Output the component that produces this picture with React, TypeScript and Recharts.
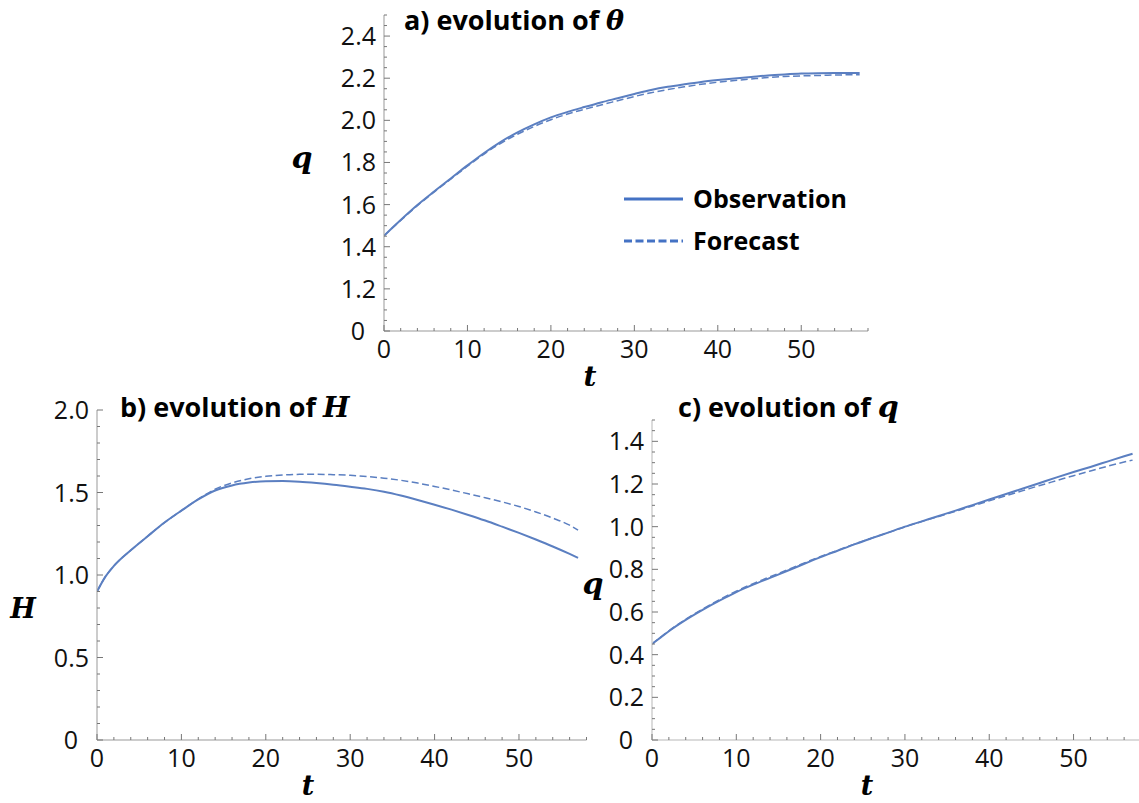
import React from 'react';
import { LineChart, Line, XAxis, YAxis, Legend } from 'recharts';

// ---------- data ----------
const tValues = [0, 1, 2, 4, 6, 8, 10, 12, 14, 16, 18, 20, 22, 24, 26, 28, 30, 32, 34, 36, 38, 40, 42, 44, 46, 48, 50, 52, 54, 56, 57];

const thetaObservation = [1.452, 1.49, 1.527, 1.598, 1.662, 1.724, 1.786, 1.845, 1.898, 1.943, 1.981, 2.014, 2.04, 2.063, 2.085, 2.105, 2.125, 2.144, 2.159, 2.171, 2.182, 2.191, 2.199, 2.206, 2.213, 2.218, 2.222, 2.224, 2.225, 2.225, 2.225];
const thetaForecast = [1.452, 1.489, 1.525, 1.595, 1.659, 1.721, 1.782, 1.84, 1.891, 1.934, 1.971, 2.003, 2.03, 2.052, 2.073, 2.093, 2.113, 2.131, 2.146, 2.159, 2.171, 2.181, 2.189, 2.196, 2.203, 2.208, 2.211, 2.213, 2.215, 2.216, 2.216];

const hObservation = [0.9, 0.99, 1.055, 1.15, 1.235, 1.318, 1.39, 1.458, 1.512, 1.543, 1.56, 1.568, 1.569, 1.565, 1.557, 1.547, 1.535, 1.522, 1.505, 1.482, 1.455, 1.426, 1.396, 1.364, 1.33, 1.293, 1.255, 1.215, 1.173, 1.128, 1.104];
const hForecast = [0.9, 0.99, 1.055, 1.15, 1.235, 1.318, 1.39, 1.46, 1.52, 1.558, 1.583, 1.598, 1.606, 1.61, 1.61, 1.608, 1.604, 1.597, 1.587, 1.574, 1.557, 1.537, 1.515, 1.492, 1.468, 1.443, 1.415, 1.382, 1.345, 1.302, 1.272];

const qObservation = [0.45, 0.48, 0.51, 0.563, 0.61, 0.653, 0.693, 0.728, 0.76, 0.792, 0.825, 0.857, 0.887, 0.917, 0.945, 0.972, 1.0, 1.025, 1.05, 1.075, 1.101, 1.127, 1.153, 1.179, 1.205, 1.231, 1.256, 1.28, 1.305, 1.33, 1.342];
const qForecast = [0.45, 0.481, 0.512, 0.566, 0.614, 0.658, 0.698, 0.733, 0.765, 0.797, 0.829, 0.86, 0.889, 0.918, 0.946, 0.972, 0.999, 1.024, 1.048, 1.072, 1.097, 1.121, 1.145, 1.169, 1.193, 1.216, 1.239, 1.261, 1.283, 1.303, 1.312];

const seriesNames = ['Observation', 'Forecast'];

// tick labels
const tMajorTicks = [0, 10, 20, 30, 40, 50];
const tMajorLabels = ['0', '10', '20', '30', '40', '50'];
const thetaMajorTicks = [1.0, 1.2, 1.4, 1.6, 1.8, 2.0, 2.2, 2.4];
const thetaMajorLabels = ['0', '1.2', '1.4', '1.6', '1.8', '2.0', '2.2', '2.4'];
const hMajorTicks = [0, 0.5, 1.0, 1.5, 2.0];
const hMajorLabels = ['0', '0.5', '1.0', '1.5', '2.0'];
const qMajorTicks = [0, 0.2, 0.4, 0.6, 0.8, 1.0, 1.2, 1.4];
const qMajorLabels = ['0', '0.2', '0.4', '0.6', '0.8', '1.0', '1.2', '1.4'];

// minor tick grids (tick positions, not data)
const range = (a: number, b: number, step: number) => {
  const out: number[] = [];
  const n = Math.round((b - a) / step);
  for (let i = 0; i <= n; i++) out.push(Math.round((a + i * step) * 10000) / 10000);
  return out;
};
const tAllTicks = range(0, 58, 2);
const thetaAllTicks = range(1.0, 2.5, 0.05);
const hAllTicks = range(0, 2.0, 0.1);
const qAllTicks = range(0, 1.5, 0.05);

const build = (obs: number[], fc: number[]) =>
  tValues.map((t, i) => ({ t, obs: obs[i], fc: fc[i] }));

const thetaData = build(thetaObservation, thetaForecast);
const hData = build(hObservation, hForecast);
const qData = build(qObservation, qForecast);

// ---------- style ----------
const LINE_COLOR = '#5b7fc1';
const LEGEND_COLOR = '#4472c4';
const TICK_COLOR = '#777';
const LABEL_FONT = '"Open Sans", sans-serif';
const MATH_FONT = '"DejaVu Serif", serif';
const TICK_FONT_SIZE = 25;
const W = 1150;
const H = 803;

const findMajor = (v: number, majors: number[]) =>
  majors.findIndex((m) => Math.abs(m - v) < 1e-6);

const makeYTick = (majors: number[], labels: string[]) => (p: any) => {
  const { x, y, payload } = p;
  const i = findMajor(payload.value, majors);
  const major = i >= 0;
  const lab = major ? labels[i] : '';
  return (
    <g>
      <line x1={x} x2={x + (major ? 6 : 3)} y1={y} y2={y} stroke={TICK_COLOR} strokeWidth={1} />
      {major && (
        <text x={x - (lab.includes('.') ? 8 : 19)} y={y + 9} textAnchor="end" fontFamily={LABEL_FONT} fontSize={TICK_FONT_SIZE} fill="#111">
          {lab}
        </text>
      )}
    </g>
  );
};

const makeXTick = (majors: number[], labels: string[]) => (p: any) => {
  const { x, y, payload } = p;
  const i = findMajor(payload.value, majors);
  const major = i >= 0;
  return (
    <g>
      <line x1={x} x2={x} y1={y} y2={y - (major ? 6 : 3)} stroke={TICK_COLOR} strokeWidth={1} />
      {major && (
        <text x={x} y={y + 27} textAnchor="middle" fontFamily={LABEL_FONT} fontSize={TICK_FONT_SIZE} fill="#111">
          {labels[i]}
        </text>
      )}
    </g>
  );
};

const legendContent = (props: any) => {
  const payload = [...(props.payload || [])].sort(
    (a: any, b: any) => seriesNames.indexOf(a.value) - seriesNames.indexOf(b.value)
  );
  return (
    <svg width={240} height={80} style={{ overflow: 'visible' }}>
      {payload.map((entry: any, i: number) => {
        const cy = 19 + i * 42;
        const dashed = entry.value === seriesNames[1];
        return (
          <g key={i}>
            <line x1={1} x2={60} y1={cy} y2={cy} stroke={LEGEND_COLOR} strokeWidth={3}
              strokeDasharray={dashed ? '8 3.5' : undefined} />
            <text x={70} y={cy + 9} fontFamily={LABEL_FONT} fontWeight={700} fontSize={25} fill="#000">
              {entry.value}
            </text>
          </g>
        );
      })}
    </svg>
  );
};

type PanelProps = {
  data: any[];
  yDomain: [number, number];
  yTicks: number[];
  yMajors: number[];
  yLabels: string[];
  plot: { left: number; top: number; right: number; bottom: number };
  axisColor: string;
  axisWidth: number;
  legend?: boolean;
};

const Panel = ({ data, yDomain, yTicks, yMajors, yLabels, plot, axisColor, axisWidth, legend }: PanelProps) => (
  <div style={{ position: 'absolute', left: 0, top: 0 }}>
    <LineChart
      width={W}
      height={H}
      data={data}
      margin={{ left: plot.left - 1, top: plot.top, right: W - plot.right, bottom: H - plot.bottom - 1 }}
    >
      <XAxis
        dataKey="t"
        type="number"
        domain={[0, 58]}
        ticks={tAllTicks}
        interval={0}
        height={1}
        tickSize={0}
        tickMargin={0}
        tickLine={false}
        axisLine={{ stroke: axisColor, strokeWidth: axisWidth }}
        tick={makeXTick(tMajorTicks, tMajorLabels)}
        allowDataOverflow
      />
      <YAxis
        type="number"
        domain={yDomain}
        ticks={yTicks}
        interval={0}
        width={1}
        tickSize={0}
        tickMargin={0}
        tickLine={false}
        axisLine={{ stroke: axisColor, strokeWidth: axisWidth }}
        tick={makeYTick(yMajors, yLabels)}
        allowDataOverflow
      />
      <Line type="monotone" dataKey="obs" name={seriesNames[0]} stroke={LINE_COLOR} strokeWidth={2}
        dot={false} isAnimationActive={false} />
      <Line type="monotone" dataKey="fc" name={seriesNames[1]} stroke={LINE_COLOR} strokeWidth={1.5}
        strokeDasharray="7 3.5" dot={false} isAnimationActive={false} />
      {legend && (
        <Legend
          layout="horizontal"
          verticalAlign="middle"
          align="center"
          content={legendContent}
          wrapperStyle={{ position: 'absolute', left: 623, top: 180, width: 240, height: 80 }}
        />
      )}
    </LineChart>
  </div>
);

const titleStyle = { fontFamily: LABEL_FONT, fontWeight: 700, fontSize: 27, fill: '#000' } as const;
const mathStyle = { fontFamily: MATH_FONT, fontWeight: 700, fontStyle: 'italic', fill: '#000' } as const;

export default function App() {
  return (
    <div
      style={{
        position: 'absolute',
        left: 0,
        top: 0,
        width: 1139,
        height: 803,
        overflow: 'hidden',
        background: '#fff',
      }}
    >
      <Panel
        data={thetaData}
        yDomain={[1.0, 2.5]}
        yTicks={thetaAllTicks}
        yMajors={thetaMajorTicks}
        yLabels={thetaMajorLabels}
        plot={{ left: 384, top: 15, right: 868, bottom: 331 }}
        axisColor="#999"
        axisWidth={1}
        legend
      />
      <Panel
        data={hData}
        yDomain={[0, 2.0]}
        yTicks={hAllTicks}
        yMajors={hMajorTicks}
        yLabels={hMajorLabels}
        plot={{ left: 97, top: 410, right: 586.5, bottom: 740 }}
        axisColor="#999"
        axisWidth={1}
      />
      <Panel
        data={qData}
        yDomain={[0, 1.5]}
        yTicks={qAllTicks}
        yMajors={qMajorTicks}
        yLabels={qMajorLabels}
        plot={{ left: 652, top: 420, right: 1141, bottom: 740 }}
        axisColor="#cfcfcf"
        axisWidth={1.5}
      />
      <svg
        width={1139}
        height={803}
        style={{ position: 'absolute', left: 0, top: 0, pointerEvents: 'none' }}
      >
        {/* titles */}
        <text x={404} y={30} {...titleStyle}>
          a) evolution of <tspan {...mathStyle} fontSize={27}>θ</tspan>
        </text>
        <text x={120} y={417} {...titleStyle}>
          b) evolution of <tspan {...mathStyle} fontSize={28}>H</tspan>
        </text>
        <text x={678} y={417} {...titleStyle}>
          c) evolution of <tspan {...mathStyle} fontSize={30}>q</tspan>
        </text>
        {/* axis labels */}
        <text x={302} y={168} textAnchor="middle" {...mathStyle} fontSize={30}>q</text>
        <text x={590} y={386} textAnchor="middle" {...mathStyle} fontSize={28}>t</text>
        <text x={23} y={618} textAnchor="middle" {...mathStyle} fontSize={27}>H</text>
        <text x={308} y={795} textAnchor="middle" {...mathStyle} fontSize={27}>t</text>
        <text x={593} y={594} textAnchor="middle" {...mathStyle} fontSize={30}>q</text>
        <text x={867} y={795} textAnchor="middle" {...mathStyle} fontSize={27}>t</text>
      </svg>
    </div>
  );
}
